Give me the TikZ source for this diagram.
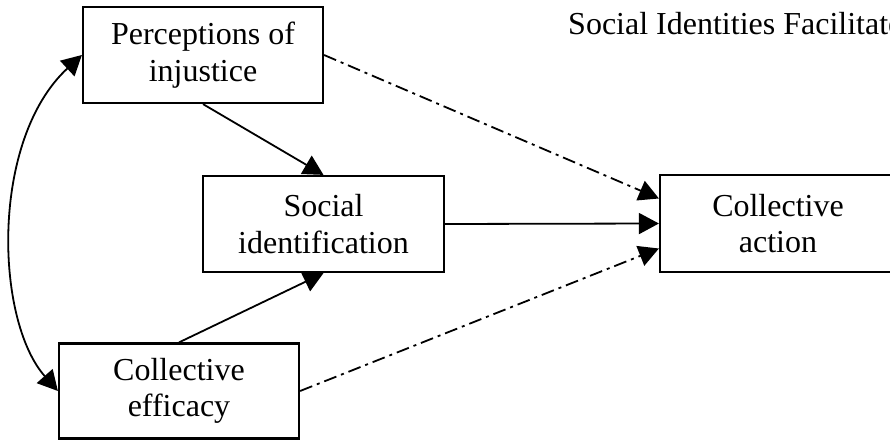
\documentclass[tikz,border=0pt]{standalone}
\usepackage{fontspec}
\setmainfont{Liberation Serif}
\usetikzlibrary{arrows.meta,calc}
\begin{document}
\begin{tikzpicture}[x=1pt,y=-1pt,
  box/.style={draw,line width=2.2pt,align=center,inner sep=0pt,fill=white,
    font=\fontsize{32}{36.5}\selectfont},
  tip/.style={Triangle[length=20pt,width=21pt]},
  conn/.style={line width=1.8pt,-{Triangle[length=20pt,width=21pt]}},
  dd/.style={conn,dash pattern=on 13pt off 5pt on 3pt off 5pt}]
\useasboundingbox (0,0) rectangle (890,443);
\clip (0,0) rectangle (890,443);
\node[box,minimum width=240pt,minimum height=96pt] (p) at (203,55) {Perceptions of\\injustice};
\node[box,minimum width=241pt,minimum height=96pt] (s) at (323.5,224) {Social\\identification};
\node[box,minimum width=240pt,minimum height=95pt] (e) at (179,391) {Collective\\efficacy};
\node[box,minimum width=236pt,minimum height=97pt] (a) at (778,223.5) {Collective\\action};
\node[anchor=base west,inner sep=0pt,font=\fontsize{32}{36}\selectfont] (t) at (568,35) {Social Identities Facilitate};
\draw[conn] (p.south) -- (s.north);
\draw[conn] (e.north) -- (s.south);
\draw[conn] (s.east) -- (a.west);
\draw[dd] (p.east) -- ([yshift=25pt]a.west);
\draw[dd] (e.east) -- ([yshift=-25pt]a.west);
\draw[line width=1.8pt,{Triangle[length=20pt,width=21pt]}-{Triangle[length=20pt,width=21pt]}]
  (p.west) .. controls (-10,140) and (-5,320) .. (e.west);
\end{tikzpicture}
\end{document}
